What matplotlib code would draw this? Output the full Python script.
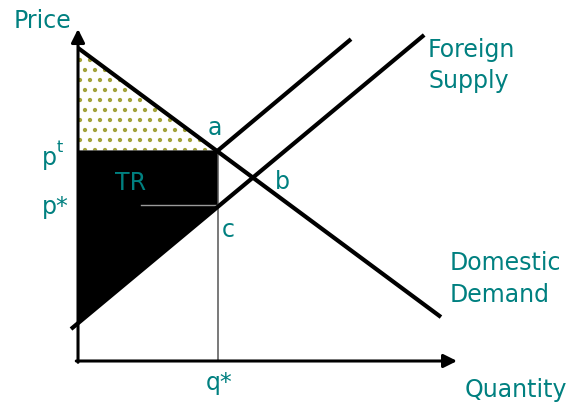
import matplotlib
matplotlib.use("Agg")
import matplotlib.pyplot as plt
import numpy as np

# 120 dpi so the '..' hatch lands at ~10 px spacing; sizes below scaled by k
DPI = 120
k = 100 / DPI

plt.rcParams['font.family'] = ['DejaVu Sans']
plt.rcParams['hatch.linewidth'] = 1.6 * k

teal = '#008080'

# (quantity / price units)
q_star = 4.0
p_star = 6.0
p_tariff = 8.1
demand_q = [0.0, 10.37]
demand_p = [12.04, 1.69]
supply_q = [-0.2, 9.89]
supply_p = [1.23, 12.54]
tariff_supply_q = [4.0, 7.8]
tariff_supply_p = [8.1, 12.38]
price_axis_top = 12.77
qty_axis_end = 10.83

# where the curves meet the price axis
supply_at_0 = np.interp(0, supply_q, supply_p)
demand_at_0 = np.interp(0, demand_q, demand_p)

fig = plt.figure(figsize=(574 / DPI, 404 / DPI), dpi=DPI)
ax = fig.add_axes([0, 0, 1, 1])
ax.set_xlim(-2.229, 14.171)
ax.set_ylim(-1.654, 13.885)
ax.axis('off')

# dotted triangle above the tariff price
ax.fill([0, q_star, 0], [demand_at_0, p_tariff, p_tariff],
        facecolor='white', edgecolor='#a3a33a', hatch='..', lw=0, zorder=1)

# black area: tariff revenue + area under the supply curve
ax.fill([0, q_star, q_star, 0], [p_tariff, p_tariff, p_star, supply_at_0],
        color='black', lw=0, zorder=2)
ax.plot([1.8, q_star], [p_star, p_star], color='#9a9a9a', lw=1 * k, zorder=3)

# q* guide line
ax.plot([q_star, q_star], [0, p_tariff], color='#555555', lw=1.1 * k, zorder=3)

# curves
for xs, ys in [(demand_q, demand_p), (supply_q, supply_p),
               (tariff_supply_q, tariff_supply_p)]:
    ax.plot(xs, ys, color='black', lw=3 * k, solid_capstyle='butt', zorder=4)

# axes with arrows
arrow = dict(arrowstyle='-|>', lw=2.2 * k, color='black', mutation_scale=20 * k,
             shrinkA=0, shrinkB=0)
ax.annotate('', xy=(0, price_axis_top), xytext=(0, -0.05), arrowprops=arrow, zorder=5)
ax.annotate('', xy=(qty_axis_end, 0), xytext=(-0.05, 0), arrowprops=arrow, zorder=5)

fs = 17 * k
ax.text(-1.83, 12.81, 'Price', color=teal, fontsize=fs, va='baseline')
ax.text(-1.03, 7.54, 'p', color=teal, fontsize=fs, va='baseline')
ax.text(-0.6, 8.04, 't', color=teal, fontsize=11.5 * k, va='baseline')
ax.text(-1.03, 5.65, 'p*', color=teal, fontsize=fs, va='baseline')
ax.text(1.51, 6.85, 'TR', color=teal, fontsize=fs, ha='center', va='center', zorder=6)
ax.text(3.91, 8.96, 'a', color=teal, fontsize=fs, ha='center', va='center')
ax.text(5.83, 6.88, 'b', color=teal, fontsize=fs, ha='center', va='center')
ax.text(4.29, 5.04, 'c', color=teal, fontsize=fs, ha='center', va='center')
ax.text(4.03, -1.12, 'q*', color=teal, fontsize=fs, ha='center', va='baseline')
ax.text(10.0, 11.69, 'Foreign', color=teal, fontsize=fs, va='baseline')
ax.text(10.0, 10.5, 'Supply', color=teal, fontsize=fs, va='baseline')
ax.text(10.63, 3.5, 'Domestic', color=teal, fontsize=fs, va='baseline')
ax.text(10.63, 2.27, 'Demand', color=teal, fontsize=fs, va='baseline')
ax.text(11.06, -1.38, 'Quantity', color=teal, fontsize=fs, va='baseline')

fig.savefig('out.png', dpi=DPI)
